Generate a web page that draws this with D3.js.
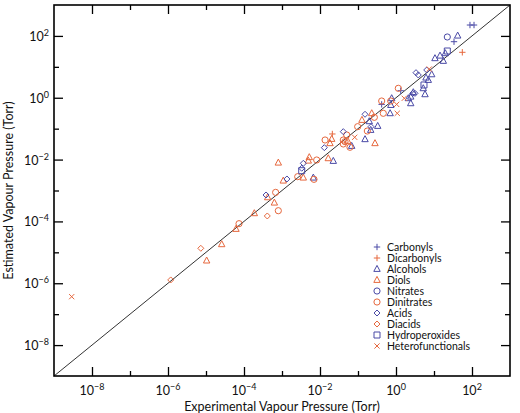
<!DOCTYPE html>
<html>
<head>
<meta charset="utf-8">
<script src="https://cdn.jsdelivr.net/npm/d3@7"></script>
<style>
  html, body { margin: 0; padding: 0; background: #fff; }
  svg { display: block; font-family: "Lato", "Open Sans", sans-serif; }
</style>
</head>
<body>
<svg id="chart" width="520" height="413"></svg>
<script>
// ---------------- DATA (values in Torr) ----------------
const categories = ["Carbonyls", "Dicarbonyls", "Alcohols", "Diols", "Nitrates",
                    "Dinitrates", "Acids", "Diacids", "Hydroperoxides", "Heterofunctionals"];

const carbonylsExp = [88.5, 113, 33.6, 1.33, 0.42];
const carbonylsEst = [225, 225, 65, 1.69, 0.61];

const dicarbonylsExp = [55.6, 0.0211];
const dicarbonylsEst = [29.5, 0.0673];

const alcoholsExp = [42, 10.6, 14.4, 17.6, 19.8, 8.7, 6.15, 7.08, 5.22, 5.8, 2.85, 2.44, 2.11, 2.44,
                     0.77, 0.73, 0.70, 0.153, 0.198, 0.216, 0.33, 0.0682, 0.0224, 0.00667];
const alcoholsEst = [102, 18.9, 22.9, 15.5, 27.4, 5.7, 4.46, 3.75, 2.02, 1.29, 1.5, 1.08, 0.96, 0.66,
                     0.96, 0.58, 0.314, 0.0454, 0.173, 0.0906, 0.122, 0.0275, 0.0090, 0.0026];

const diolsExp = [0.23, 0.127, 0.28, 0.0203, 0.0536, 0.0183, 0.00522, 0.00492, 0.0165, 0.00364,
                  0.0008, 0.00108, 0.00042, 0.00063, 0.000187, 6.15e-5, 2.59e-5, 1.04e-5];
const diolsEst = [0.314, 0.191, 0.0337, 0.0464, 0.040, 0.0337, 0.0119, 0.0092, 0.0110, 0.0026,
                  0.00794, 0.00208, 0.0006, 0.000404, 0.000183, 5.7e-5, 1.82e-5, 5.4e-6];

const nitratesExp = [22.4];
const nitratesEst = [92.3];

const dinitratesExp = [1.15, 0.42, 0.726, 0.463, 0.269, 0.098, 0.176, 0.0505, 0.0136, 0.041, 0.0455,
                       0.041, 0.0615, 0.00818, 0.00259, 0.00695, 0.00068, 0.0008, 7.4e-5];
const dinitratesEst = [2.02, 0.785, 0.785, 0.314, 0.233, 0.116, 0.084, 0.0625, 0.043, 0.043, 0.038,
                       0.032, 0.025, 0.0097, 0.0028, 0.0023, 0.00087, 0.000222, 8.45e-5];

const acidsExp = [3.36, 3.86, 6.43, 2.75, 3.16, 0.153, 0.22, 0.041, 0.013, 0.00364, 0.0033, 0.00135, 0.00038];
const acidsEst = [6.47, 5.45, 7.9, 1.39, 1.39, 0.292, 0.116, 0.080, 0.0243, 0.00758, 0.00525, 0.00236, 0.000716];

const diacidsExp = [0.00041, 7.3e-6, 1.18e-6];
const diacidsEst = [0.00015, 1.35e-5, 1.28e-6];

const hydroperoxidesExp = [22.4, 5.45, 0.0033];
const hydroperoxidesEst = [32.5, 2.59, 0.00437];

const heterofunctionalsExp = [2.92e-9, 7.5, 1.65, 1.04, 1.08, 0.0818];
const heterofunctionalsEst = [3.68e-7, 8.5, 0.96, 0.61, 0.314, 0.0526];

const xMajorTicks = [1e-8, 1e-6, 1e-4, 1e-2, 1e0, 1e2];
const xMinorTicks = [1e-7, 1e-5, 1e-3, 1e-1, 1e1];
const yMajorTicks = [1e-8, 1e-6, 1e-4, 1e-2, 1e0, 1e2];
const yMinorTicks = [1e-7, 1e-5, 1e-3, 1e-1, 1e1];
const tickExponents = ["−8", "−6", "−4", "−2", "0", "2"];

const xTitle = "Experimental Vapour Pressure (Torr)";
const yTitle = "Estimated Vapour Pressure (Torr)";

// ---------------- SERIES TABLE ----------------
const BLUE = "#4a4aa6", ORANGE = "#e6683e";
const series = [
  { name: categories[0], shape: "plus",     color: BLUE,   x: carbonylsExp,         y: carbonylsEst },
  { name: categories[1], shape: "plus",     color: ORANGE, x: dicarbonylsExp,       y: dicarbonylsEst },
  { name: categories[2], shape: "triangle", color: BLUE,   x: alcoholsExp,          y: alcoholsEst },
  { name: categories[3], shape: "triangle", color: ORANGE, x: diolsExp,             y: diolsEst },
  { name: categories[4], shape: "circle",   color: BLUE,   x: nitratesExp,          y: nitratesEst },
  { name: categories[5], shape: "circle",   color: ORANGE, x: dinitratesExp,        y: dinitratesEst },
  { name: categories[6], shape: "diamond",  color: BLUE,   x: acidsExp,             y: acidsEst },
  { name: categories[7], shape: "diamond",  color: ORANGE, x: diacidsExp,           y: diacidsEst },
  { name: categories[8], shape: "square",   color: BLUE,   x: hydroperoxidesExp,    y: hydroperoxidesEst },
  { name: categories[9], shape: "cross",    color: ORANGE, x: heterofunctionalsExp, y: heterofunctionalsEst }
];

// ---------------- LAYOUT ----------------
const svg = d3.select("#chart");
const L = 54, R = 510, T = 5, B = 376;
const x = d3.scaleLog().domain([1e-9, 1e3]).range([L, R]);
const y = d3.scaleLog().domain([1e-9, 1e3]).range([B, T]);

function shapePath(shape) {
  switch (shape) {
    case "plus": return "M-3.2,0H3.2M0,-3.2V3.2";
    case "cross": return "M-2.6,-2.6L2.6,2.6M-2.6,2.6L2.6,-2.6";
    case "triangle": return "M0,-3.6L3.2,2.4L-3.2,2.4Z";
    case "diamond": return "M0,-3L3,0L0,3L-3,0Z";
    case "square": return "M-3,-3H3V3H-3Z";
    case "circle": return d3.arc()({innerRadius: 0, outerRadius: 3.1, startAngle: 0, endAngle: 2 * Math.PI});
  }
}

// diagonal 1:1 line
svg.append("line")
  .attr("x1", x(1e-9)).attr("y1", y(1e-9))
  .attr("x2", x(1e3)).attr("y2", y(1e3))
  .attr("stroke", "#333").attr("stroke-width", 1);

// points
series.forEach(s => {
  svg.append("g").selectAll("path")
    .data(s.x.map((v, i) => [v, s.y[i]]))
    .join("path")
    .attr("d", shapePath(s.shape))
    .attr("transform", d => `translate(${x(d[0])},${y(d[1])})`)
    .attr("fill", "none")
    .attr("stroke", s.color)
    .attr("stroke-width", 1);
});

// axes (ticks inside the box, IDL style)
function styleAxis(g) {
  g.select(".domain").remove();
  g.selectAll(".tick line").attr("stroke", "#000").attr("stroke-width", 1.3);
}
const MAJ = 9, MIN = 5;
// bottom
svg.append("g").attr("transform", `translate(0,${B})`)
  .call(d3.axisBottom(x).tickValues(xMajorTicks).tickSizeInner(-MAJ).tickSizeOuter(0).tickPadding(MAJ + 6).tickFormat(() => ""))
  .call(styleAxis);
svg.append("g").attr("transform", `translate(0,${B})`)
  .call(d3.axisBottom(x).tickValues(xMinorTicks).tickSizeInner(-MIN).tickSizeOuter(0).tickFormat(() => ""))
  .call(styleAxis);
// top
svg.append("g").attr("transform", `translate(0,${T})`)
  .call(d3.axisTop(x).tickValues(xMajorTicks).tickSizeInner(-MAJ).tickSizeOuter(0).tickFormat(() => ""))
  .call(styleAxis);
svg.append("g").attr("transform", `translate(0,${T})`)
  .call(d3.axisTop(x).tickValues(xMinorTicks).tickSizeInner(-MIN).tickSizeOuter(0).tickFormat(() => ""))
  .call(styleAxis);
// left
svg.append("g").attr("transform", `translate(${L},0)`)
  .call(d3.axisLeft(y).tickValues(yMajorTicks).tickSizeInner(-MAJ).tickSizeOuter(0).tickFormat(() => ""))
  .call(styleAxis);
svg.append("g").attr("transform", `translate(${L},0)`)
  .call(d3.axisLeft(y).tickValues(yMinorTicks).tickSizeInner(-MIN).tickSizeOuter(0).tickFormat(() => ""))
  .call(styleAxis);
// right
svg.append("g").attr("transform", `translate(${R},0)`)
  .call(d3.axisRight(y).tickValues(yMajorTicks).tickSizeInner(-MAJ).tickSizeOuter(0).tickFormat(() => ""))
  .call(styleAxis);
svg.append("g").attr("transform", `translate(${R},0)`)
  .call(d3.axisRight(y).tickValues(yMinorTicks).tickSizeInner(-MIN).tickSizeOuter(0).tickFormat(() => ""))
  .call(styleAxis);

// box
svg.append("rect")
  .attr("x", L).attr("y", T).attr("width", R - L).attr("height", B - T)
  .attr("fill", "none").attr("stroke", "#000").attr("stroke-width", 1.6);

// tick labels
function powLabel(g, exp) {
  g.append("tspan").text("10");
  g.append("tspan").attr("dy", -5).attr("font-size", 9).text(exp);
}
xMajorTicks.forEach((v, i) => {
  const t = svg.append("text").attr("x", x(v)).attr("y", 395)
    .attr("text-anchor", "middle").attr("font-size", 12.5).attr("fill", "#111");
  powLabel(t, tickExponents[i]);
});
yMajorTicks.forEach((v, i) => {
  const t = svg.append("text").attr("x", 49).attr("y", y(v) + 5)
    .attr("text-anchor", "end").attr("font-size", 12.5).attr("fill", "#111");
  powLabel(t, tickExponents[i]);
});

// axis titles
svg.append("text").attr("x", (L + R) / 2).attr("y", 411)
  .attr("text-anchor", "middle").attr("font-size", 12.5).attr("fill", "#111")
  .text(xTitle);
svg.append("text").attr("transform", `translate(13,${(T + B) / 2}) rotate(-90)`)
  .attr("text-anchor", "middle").attr("font-size", 12.5).attr("fill", "#111")
  .text(yTitle);

// legend
const legend = svg.append("g");
series.forEach((s, i) => {
  const ly = 247 + i * 11;
  legend.append("path").attr("d", shapePath(s.shape))
    .attr("transform", `translate(377,${ly})`)
    .attr("fill", "none").attr("stroke", s.color).attr("stroke-width", 1);
  legend.append("text").attr("x", 387).attr("y", ly + 3.8)
    .attr("font-size", 10.5).attr("fill", "#111").text(s.name);
});
</script>
</body>
</html>
